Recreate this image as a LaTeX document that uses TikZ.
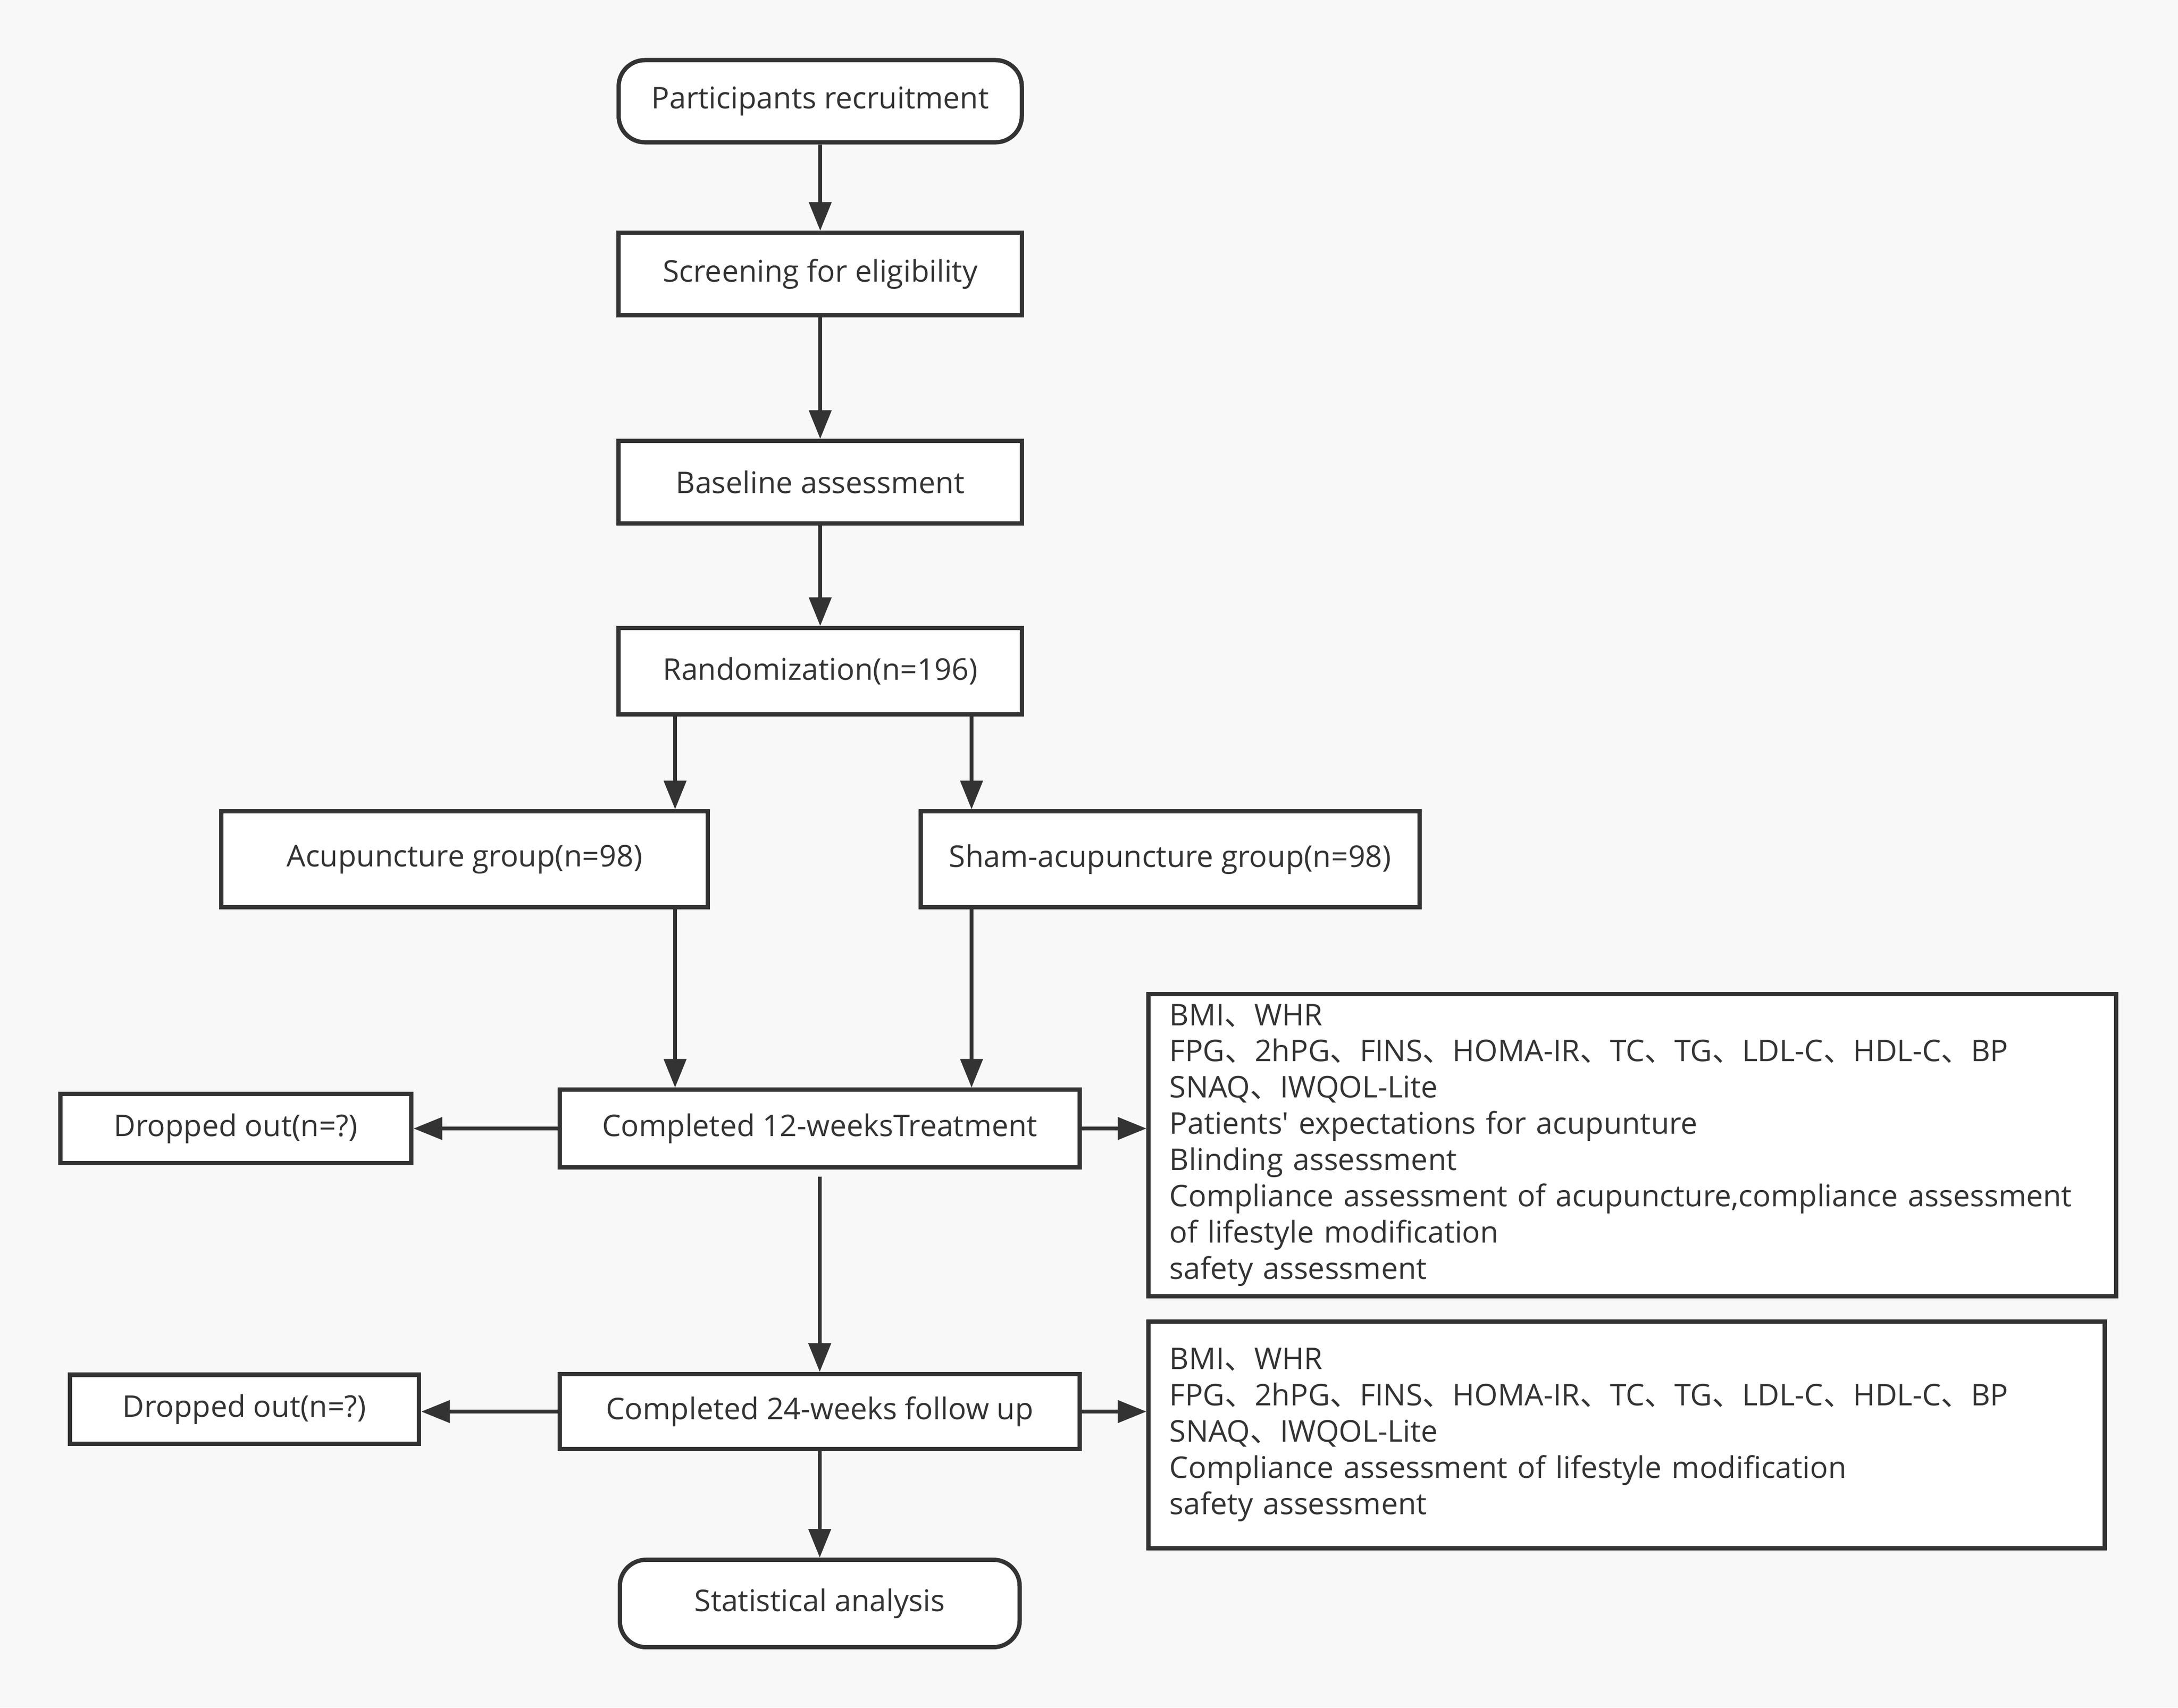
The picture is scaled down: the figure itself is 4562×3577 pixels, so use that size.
\documentclass[tikz,border=0pt]{standalone}
\usepackage{fontspec}
\setmainfont{Open Sans}
\newfontfamily\cjk{Noto Sans CJK SC}
\newcommand{\dn}{{\cjk 、}}
\usetikzlibrary{arrows.meta}
\definecolor{ink}{HTML}{333333}
\definecolor{bgc}{HTML}{F8F8F8}
\begin{document}
\begin{tikzpicture}[x=0.01cm,y=-0.01cm,
  font=\fontsize{17.8}{21.6}\selectfont,
  box/.style={draw=ink, line width=0.09cm, fill=white, text=ink, inner sep=0pt, align=center},
  term/.style={box, rounded corners=0.55cm},
  infobox/.style={box, align=left, inner xsep=0.44cm},
  arr/.style={draw=ink, line width=0.08cm, -{Triangle[length=0.6cm,width=0.46cm]}}]
\useasboundingbox (0,0) rectangle (4562,3577);
\fill[bgc] (0,0) rectangle (4562,3577);

\node[term, minimum width=8.44cm, minimum height=1.72cm] (pr) at (1718,212) {Participants recruitment};
\node[box, minimum width=8.44cm, minimum height=1.72cm] (scr) at (1718,574) {Screening for eligibility};
\node[box, minimum width=8.44cm, minimum height=1.72cm] (base) at (1718,1010) {Baseline assessment};
\node[box, minimum width=8.44cm, minimum height=1.80cm] (rand) at (1718,1406) {Randomization(n=196)};
\node[box, minimum width=10.19cm, minimum height=2.00cm] (acu) at (973,1800) {Acupuncture group(n=98)};
\node[box, minimum width=10.45cm, minimum height=2.00cm] (sham) at (2451,1800) {Sham-acupuncture group(n=98)};
\node[box, minimum width=10.89cm, minimum height=1.62cm] (c12) at (1717,2364) {Completed 12-weeksTreatment};
\node[box, minimum width=7.35cm, minimum height=1.44cm] (d1) at (494,2364) {Dropped out(n=?)};
\node[infobox, text width=19.37cm, minimum height=6.33cm] (r1) at (3419,2399) {BMI\dn WHR\\
FPG\dn 2hPG\dn FINS\dn HOMA-IR\dn TC\dn TG\dn LDL-C\dn HDL-C\dn BP\\
SNAQ\dn IWQOL-Lite\\
Patients\textquotesingle\ expectations for acupunture\\
Blinding assessment\\
Compliance assessment of acupuncture,compliance assessment\\
of lifestyle modification\\
safety assessment};
\node[box, minimum width=10.89cm, minimum height=1.57cm] (c24) at (1717,2957) {Completed 24-weeks follow up};
\node[box, minimum width=7.31cm, minimum height=1.44cm] (d2) at (512,2952) {Dropped out(n=?)};
\node[infobox, text width=19.13cm, minimum height=4.74cm] (r2) at (3407,3006) {BMI\dn WHR\\
FPG\dn 2hPG\dn FINS\dn HOMA-IR\dn TC\dn TG\dn LDL-C\dn HDL-C\dn BP\\
SNAQ\dn IWQOL-Lite\\
Compliance assessment of lifestyle modification\\
safety assessment};
\node[term, minimum width=8.37cm, minimum height=1.83cm] (stat) at (1717,3359) {Statistical analysis};

\coordinate (xa) at (1414,0);
\coordinate (xb) at (2035,0);

\draw[arr] (pr) -- (scr);
\draw[arr] (scr) -- (base);
\draw[arr] (base) -- (rand);
\draw[arr] (rand.south -| xa) -- (acu.north -| xa);
\draw[arr] (rand.south -| xb) -- (sham.north -| xb);
\draw[arr] (acu.south -| xa) -- (c12.north -| xa);
\draw[arr] (sham.south -| xb) -- (c12.north -| xb);
\draw[arr] (c12.west) -- (c12.west -| d1.east);
\draw[arr] (c12.east) -- (c12.east -| r1.west);
\draw[arr, shorten <=0.15cm] (c12) -- (c24);
\draw[arr] (c24.west) -- (c24.west -| d2.east);
\draw[arr] (c24.east) -- (c24.east -| r2.west);
\draw[arr] (c24) -- (stat);
\end{tikzpicture}
\end{document}
